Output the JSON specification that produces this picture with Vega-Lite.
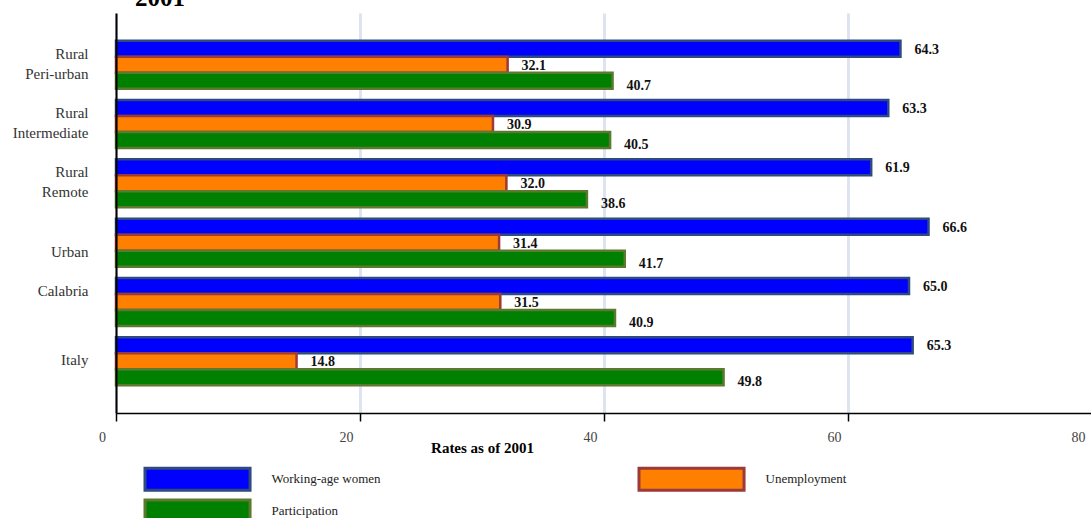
{
  "$schema": "https://vega.github.io/schema/vega-lite/v6.json",
  "width": 976,
  "height": 400,
  "autosize": "none",
  "padding": {"left": 116, "top": 13, "right": 0, "bottom": 105},
  "background": "white",
  "title": {
    "text": "2001",
    "anchor": "start",
    "frame": "group",
    "dx": 19,
    "offset": 2,
    "font": "Liberation Serif",
    "fontSize": 25,
    "fontWeight": "bold",
    "color": "#000000"
  },
  "config": {"view": {"stroke": null}, "font": "Liberation Serif"},
  "data": {
    "values": [
      {"area": "Rural Peri-urban", "series": "Working-age women", "rate": 64.3},
      {"area": "Rural Peri-urban", "series": "Unemployment", "rate": 32.1},
      {"area": "Rural Peri-urban", "series": "Participation", "rate": 40.7},
      {"area": "Rural Intermediate", "series": "Working-age women", "rate": 63.3},
      {"area": "Rural Intermediate", "series": "Unemployment", "rate": 30.9},
      {"area": "Rural Intermediate", "series": "Participation", "rate": 40.5},
      {"area": "Rural Remote", "series": "Working-age women", "rate": 61.9},
      {"area": "Rural Remote", "series": "Unemployment", "rate": 32.0},
      {"area": "Rural Remote", "series": "Participation", "rate": 38.6},
      {"area": "Urban", "series": "Working-age women", "rate": 66.6},
      {"area": "Urban", "series": "Unemployment", "rate": 31.4},
      {"area": "Urban", "series": "Participation", "rate": 41.7},
      {"area": "Calabria", "series": "Working-age women", "rate": 65.0},
      {"area": "Calabria", "series": "Unemployment", "rate": 31.5},
      {"area": "Calabria", "series": "Participation", "rate": 40.9},
      {"area": "Italy", "series": "Working-age women", "rate": 65.3},
      {"area": "Italy", "series": "Unemployment", "rate": 14.8},
      {"area": "Italy", "series": "Participation", "rate": 49.8}
    ]
  },
  "encoding": {
    "y": {
      "field": "area",
      "type": "nominal",
      "sort": ["Rural Peri-urban", "Rural Intermediate", "Rural Remote", "Urban", "Calabria", "Italy"],
      "scale": {"paddingInner": 0.19, "paddingOuter": 0.47},
      "axis": {
        "title": null,
        "ticks": false,
        "domainColor": "#000000",
        "domainWidth": 2,
        "labelPadding": 28,
        "labelFontSize": 15,
        "labelColor": "#333333",
        "labelLineHeight": 20,
        "labelOffset": {"condition": {"test": "datum.value === 'Italy'", "value": -1}, "value": -11},
        "labelExpr": "indexof(datum.label, 'Rural ') === 0 ? ['Rural', substring(datum.label, 6)] : (datum.label === 'Urban' ? ['', 'Urban'] : datum.label)",
        "zindex": 1
      }
    },
    "yOffset": {
      "field": "series",
      "type": "nominal",
      "sort": ["Working-age women", "Unemployment", "Participation"],
      "scale": {"paddingInner": 0, "paddingOuter": 0}
    },
    "x": {
      "field": "rate",
      "type": "quantitative",
      "scale": {"domain": [0, 80], "nice": false},
      "axis": {
        "title": "Rates as of 2001",
        "values": [0, 20, 40, 60, 80],
        "grid": true,
        "gridColor": "#dde3ef",
        "gridWidth": 3,
        "domainColor": "#000000",
        "domainWidth": 1.5,
        "tickColor": "#000000",
        "tickSize": 8,
        "tickWidth": 1.5,
        "labelFlush": false,
        "labelOffset": -14,
        "labelPadding": 9,
        "labelFontSize": 14,
        "labelColor": "#444444",
        "titleFontSize": 15,
        "titleFontWeight": "bold",
        "titleColor": "#000000",
        "titleX": 366,
        "titleY": 34,
        "titleAlign": "center",
        "titleBaseline": "middle",
        "zindex": 0
      }
    }
  },
  "layer": [
    {
      "mark": {"type": "bar", "strokeWidth": 2.5, "fillOpacity": 1},
      "encoding": {
        "fill": {
          "field": "series",
          "type": "nominal",
          "scale": {
            "domain": ["Working-age women", "Unemployment", "Participation"],
            "range": ["#0000ff", "#ff7f00", "#008000"]
          },
          "legend": {
            "title": null,
            "orient": "none",
            "legendX": 27.5,
            "legendY": 453.5,
            "columns": 2,
            "direction": "horizontal",
            "symbolType": "M-1,-1H8.55V1H-1Z",
            "symbolSize": 484,
            "symbolStrokeWidth": 3,
            "labelOffset": 103,
            "columnPadding": 251,
            "rowPadding": -3,
            "labelFontSize": 13,
            "labelFont": "Liberation Serif",
            "labelColor": "#222222",
            "padding": 0
          }
        },
        "stroke": {
          "field": "series",
          "type": "nominal",
          "scale": {
            "domain": ["Working-age women", "Unemployment", "Participation"],
            "range": ["#2e4a80", "#9c3a3a", "#5b7a30"]
          },
          "legend": {
            "title": null,
            "orient": "none",
            "legendX": 27.5,
            "legendY": 453.5,
            "columns": 2,
            "direction": "horizontal",
            "symbolType": "M-1,-1H8.55V1H-1Z",
            "symbolSize": 484,
            "symbolStrokeWidth": 3,
            "labelOffset": 103,
            "columnPadding": 251,
            "rowPadding": -3,
            "labelFontSize": 13,
            "labelFont": "Liberation Serif",
            "labelColor": "#222222",
            "padding": 0
          }
        }
      }
    },
    {
      "mark": {
        "type": "text",
        "align": "left",
        "baseline": "middle",
        "dx": 14,
        "dy": {"expr": "datum.series === 'Participation' ? 5 : 1"},
        "fontSize": 14,
        "fontWeight": "bold",
        "color": "#111111"
      },
      "encoding": {
        "text": {"field": "rate", "type": "quantitative", "format": ".1f"}
      }
    }
  ]
}
